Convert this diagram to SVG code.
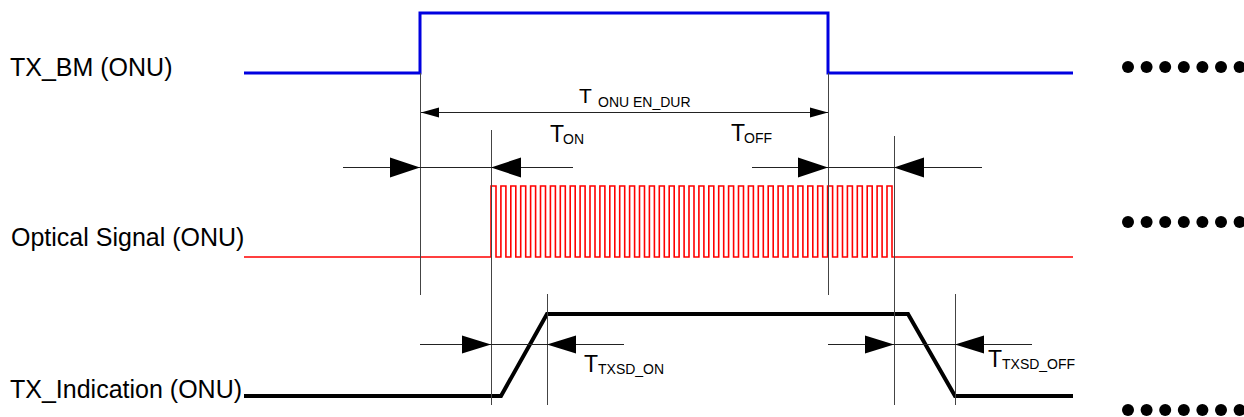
<svg xmlns="http://www.w3.org/2000/svg" width="1244" height="417" viewBox="0 0 1244 417">
<style>
.lbl{font-family:"Liberation Sans",Arial,sans-serif;font-size:25px;fill:#000}
.t{font-family:"Liberation Sans",Arial,sans-serif;fill:#000}
.guide{stroke:#444;stroke-width:1;fill:none}
.dim{stroke:#222;stroke-width:1;fill:none}
.head{fill:#000;stroke:none}
.dot{fill:#000}
</style>
<rect width="1244" height="417" fill="#fff"/>
<g id="labels">
<text class="lbl" x="10" y="76">TX_BM (ONU)</text>
<text class="lbl" x="11" y="246">Optical Signal (ONU)</text>
<text class="lbl" x="10" y="398">TX_Indication (ONU)</text>
</g>
<g id="tx_bm">
<path d="M244,73 H420 V13 H828 V73 H1073" fill="none" stroke="#0000e0" stroke-width="3"/>
</g>
<g id="optical_signal">
<path fill="none" stroke="#f00" stroke-width="1.6" d="M244,257 H491 V186 H496 V257 H500.9 V186 H505.9 V257 H510.8 V186 H515.8 V257 H520.7 V186 H525.7 V257 H530.6 V186 H535.6 V257 H540.5 V186 H545.5 V257 H550.4 V186 H555.4 V257 H560.3 V186 H565.3 V257 H570.2 V186 H575.2 V257 H580.1 V186 H585.1 V257 H590 V186 H595 V257 H599.9 V186 H604.9 V257 H609.8 V186 H614.8 V257 H619.7 V186 H624.7 V257 H629.6 V186 H634.6 V257 H639.5 V186 H644.5 V257 H649.4 V186 H654.4 V257 H659.3 V186 H664.3 V257 H669.2 V186 H674.2 V257 H679.1 V186 H684.1 V257 H689 V186 H694 V257 H698.9 V186 H703.9 V257 H708.8 V186 H713.8 V257 H718.7 V186 H723.7 V257 H728.6 V186 H733.6 V257 H738.5 V186 H743.5 V257 H748.4 V186 H753.4 V257 H758.3 V186 H763.3 V257 H768.2 V186 H773.2 V257 H778.1 V186 H783.1 V257 H788 V186 H793 V257 H797.9 V186 H802.9 V257 H807.8 V186 H812.8 V257 H817.7 V186 H822.7 V257 H827.6 V186 H832.6 V257 H837.5 V186 H842.5 V257 H847.4 V186 H852.4 V257 H857.3 V186 H862.3 V257 H867.2 V186 H872.2 V257 H877.1 V186 H882.1 V257 H887 V186 H892 V257 H1073"/>
</g>
<g id="tx_indication">
<path d="M244,396 H501 L547,314 H908 L955,396 H1073" fill="none" stroke="#000" stroke-width="4"/>
</g>
<g id="connectors">
<line class="guide" x1="420.5" y1="73" x2="420.5" y2="295"/>
<line class="guide" x1="828.5" y1="73" x2="828.5" y2="295"/>
<line class="guide" x1="491.5" y1="130" x2="491.5" y2="405"/>
<line class="guide" x1="894.5" y1="136" x2="894.5" y2="405"/>
<line class="guide" x1="547.5" y1="294" x2="547.5" y2="405"/>
<line class="guide" x1="955.5" y1="294" x2="955.5" y2="405"/>
<line class="dim" x1="421" y1="112.5" x2="828" y2="112.5"/>
<polygon class="head" points="421,112.5 439,107.5 439,117.5"/>
<polygon class="head" points="828,112.5 810,107.5 810,117.5"/>
<line class="dim" x1="343" y1="167.5" x2="573" y2="167.5"/>
<polygon class="head" points="420,167.5 390,157.5 390,177.5"/>
<polygon class="head" points="491,167.5 521,157.5 521,177.5"/>
<line class="dim" x1="752" y1="167.5" x2="982" y2="167.5"/>
<polygon class="head" points="828,167.5 798,157.5 798,177.5"/>
<polygon class="head" points="894,167.5 924,157.5 924,177.5"/>
<line class="dim" x1="420" y1="344.5" x2="624" y2="344.5"/>
<polygon class="head" points="491,344.5 462,335.5 462,353.5"/>
<polygon class="head" points="547,344.5 576,335.5 576,353.5"/>
<line class="dim" x1="828" y1="344.5" x2="1032" y2="344.5"/>
<polygon class="head" points="894,344.5 865,335.5 865,353.5"/>
<polygon class="head" points="955,344.5 984,335.5 984,353.5"/>
</g>
<g id="dim_labels">
<text class="t" x="579" y="103" font-size="21">T</text>
<text class="t" x="598" y="107" font-size="14">ONU EN_DUR</text>
<text class="t" x="550" y="142" font-size="23">T</text>
<text class="t" x="563" y="144" font-size="14">ON</text>
<text class="t" x="731" y="141" font-size="23">T</text>
<text class="t" x="744" y="143" font-size="14">OFF</text>
<text class="t" x="584" y="372" font-size="23">T</text>
<text class="t" x="598" y="374" font-size="14">TXSD_ON</text>
<text class="t" x="988" y="367" font-size="23">T</text>
<text class="t" x="1002" y="369" font-size="14">TXSD_OFF</text>
</g>
<g id="ellipsis">
<g class="dot">
<circle cx="1128" cy="67" r="6"/><circle cx="1146.6" cy="67" r="6"/><circle cx="1165.2" cy="67" r="6"/><circle cx="1183.8" cy="67" r="6"/><circle cx="1202.4" cy="67" r="6"/><circle cx="1221" cy="67" r="6"/><circle cx="1239.6" cy="67" r="6"/>
<circle cx="1128" cy="222" r="6"/><circle cx="1146.6" cy="222" r="6"/><circle cx="1165.2" cy="222" r="6"/><circle cx="1183.8" cy="222" r="6"/><circle cx="1202.4" cy="222" r="6"/><circle cx="1221" cy="222" r="6"/><circle cx="1239.6" cy="222" r="6"/>
<circle cx="1128" cy="410" r="6"/><circle cx="1146.6" cy="410" r="6"/><circle cx="1165.2" cy="410" r="6"/><circle cx="1183.8" cy="410" r="6"/><circle cx="1202.4" cy="410" r="6"/><circle cx="1221" cy="410" r="6"/><circle cx="1239.6" cy="410" r="6"/>
</g>
</g>
</svg>
